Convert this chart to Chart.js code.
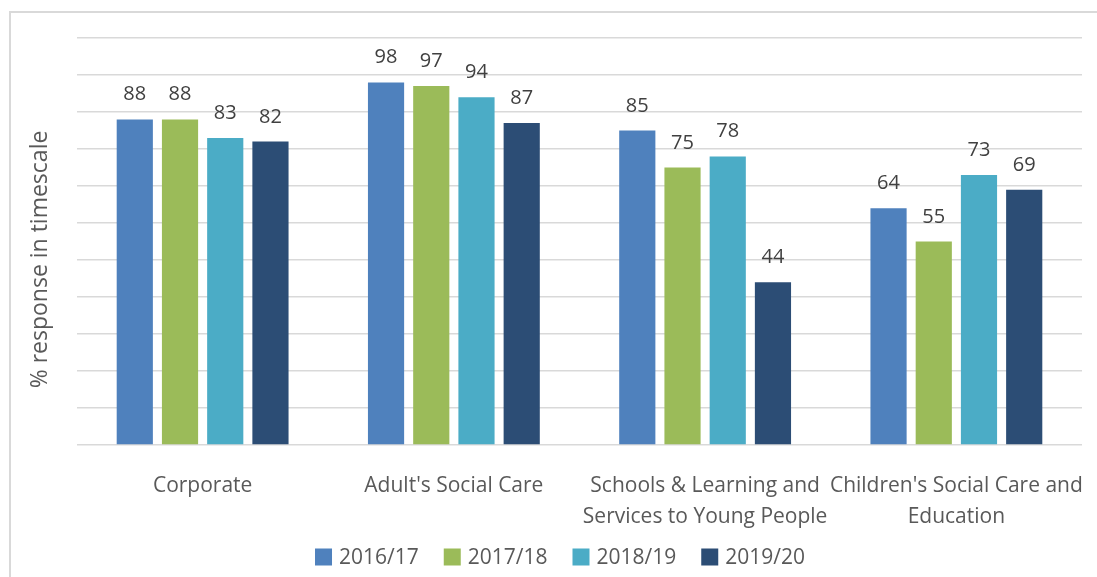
<!DOCTYPE html>
<html>
<head>
<meta charset="utf-8">
<script src="https://cdn.jsdelivr.net/npm/chart.js@4/dist/chart.umd.min.js"></script>
<style>
  html, body { margin: 0; padding: 0; background: #fff; overflow: hidden; }
  #frame { position: absolute; left: 9px; top: 11px; width: 1200px; height: 700px;
           border-left: 2px solid #d9d9d9; border-top: 2px solid #d9d9d9; }
  #wrap { position: absolute; left: 0; top: 0; width: 1097px; height: 577px; }
</style>
</head>
<body>
<div id="frame"></div>
<div id="wrap"><canvas id="myChart"></canvas></div>
<script>
const categories = [
    'Corporate',
    "Adult's Social Care",
    ['Schools & Learning and', 'Services to Young People'],
    ["Children's Social Care and", 'Education']
];
const years = ['2016/17', '2017/18', '2018/19', '2019/20'];
const values2016 = [88, 98, 85, 64];
const values2017 = [88, 97, 75, 55];
const values2018 = [83, 94, 78, 73];
const values2019 = [82, 87, 44, 69];
const yTicks = { min: 0, max: 110, step: 10 };
const yTitle = '% response in timescale';

const COLORS = ['#4f81bd', '#9bbb59', '#4bacc6', '#2c4d75'];
const FONT = "'Open Sans', sans-serif";

// value labels, rotated y title and a bottom legend with wider item spacing
const extras = {
    id: 'extras',
    afterDatasetsDraw(chart) {
        const ctx = chart.ctx;
        const area = chart.chartArea;
        ctx.save();
        ctx.font = `20px ${FONT}`;
        ctx.fillStyle = '#404040';
        ctx.textAlign = 'center';
        ctx.textBaseline = 'alphabetic';
        chart.data.datasets.forEach((ds, i) => {
            chart.getDatasetMeta(i).data.forEach((bar, j) => {
                ctx.fillText(String(ds.data[j]), bar.x, bar.y - 19);
            });
        });
        ctx.restore();

        ctx.save();
        ctx.translate(40, area.top + area.height / 2 + 18);
        ctx.rotate(-Math.PI / 2);
        ctx.font = `23px ${FONT}`;
        ctx.fillStyle = '#595959';
        ctx.textAlign = 'center';
        ctx.textBaseline = 'middle';
        ctx.fillText(yTitle, 0, 0);
        ctx.restore();

        // legend
        ctx.save();
        ctx.font = `21px ${FONT}`;
        ctx.textBaseline = 'middle';
        ctx.textAlign = 'left';
        const box = 17, gap = 7, spacing = 25, cy = 557;
        const items = chart.data.datasets.map(ds => ({
            text: ds.label, color: ds.backgroundColor, w: box + gap + ctx.measureText(ds.label).width
        }));
        const total = items.reduce((s, it) => s + it.w, 0) + spacing * (items.length - 1);
        let x = 560 - total / 2;
        items.forEach(it => {
            ctx.fillStyle = it.color;
            ctx.fillRect(x, cy - box / 2, box, box);
            ctx.fillStyle = '#595959';
            ctx.fillText(it.text, x + box + gap, cy + 1);
            x += it.w + spacing;
        });
        ctx.restore();
    }
};

const allValues = [values2016, values2017, values2018, values2019];

new Chart(document.getElementById('myChart'), {
    type: 'bar',
    data: {
        labels: categories,
        datasets: years.map((y, i) => ({
            label: y, data: allValues[i], backgroundColor: COLORS[i],
            categoryPercentage: 0.72, barPercentage: 0.8
        }))
    },
    options: {
        responsive: true, maintainAspectRatio: false, animation: false,
        layout: { padding: { left: 24, right: 15, top: 38, bottom: 0 } },
        plugins: {
            legend: { display: false },
            tooltip: { enabled: false }
        },
        scales: {
            x: {
                grid: { display: false }, border: { display: false },
                ticks: { color: '#595959', maxRotation: 0, minRotation: 0, autoSkip: false, padding: 18,
                         font: { family: FONT, size: 21, lineHeight: 1.45 } },
                afterFit(scale) {
                    scale.height = 132;
                    // long last label must not shrink the plot
                    scale.paddingLeft = 0;
                    scale.paddingRight = 0;
                }
            },
            y: {
                min: yTicks.min, max: yTicks.max,
                ticks: { display: false, stepSize: yTicks.step },
                grid: { color: '#d9d9d9', lineWidth: 1.5, drawTicks: false },
                border: { display: false },
                afterFit(scale) { scale.width = 53; }
            }
        }
    },
    plugins: [extras]
});
</script>
</body>
</html>
